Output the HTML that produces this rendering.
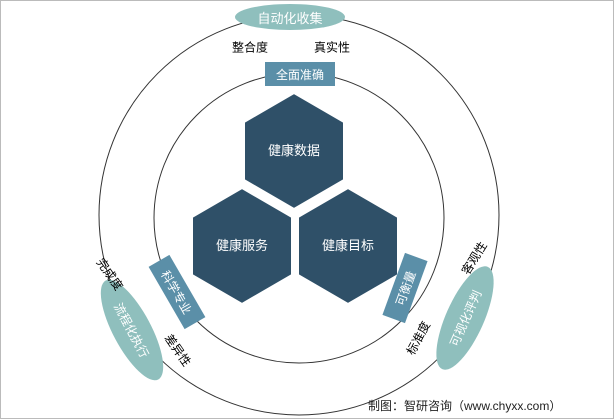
<!DOCTYPE html>
<html><head><meta charset="utf-8"><style>
body{margin:0;width:614px;height:419px;overflow:hidden;background:#fff;font-family:"Liberation Sans","Noto Sans CJK SC",sans-serif;position:relative}
.a{position:absolute;transform:translate(-50%,-50%);white-space:nowrap;display:flex;align-items:center;justify-content:center}
</style></head><body>
<div style="position:absolute;inset:0;border:1px solid #bbb;box-sizing:border-box"></div>
<svg width="614" height="419" style="position:absolute;left:0;top:0">
<circle cx="299" cy="215" r="200" fill="none" stroke="#333" stroke-width="1"/>
<circle cx="299" cy="218" r="145" fill="none" stroke="#333" stroke-width="1"/>
<g fill="#2f5068" stroke="#fff" stroke-width="2">
<polygon points="294,93 344,122 344,180 294,209 244,180 244,122"/>
<polygon points="242,188 292,217 292,275 242,304 192,275 192,217"/>
<polygon points="348,188 398,217 398,275 348,304 298,275 298,217"/>
</g>
<text x="294" y="155" fill="#fff" font-size="13" text-anchor="middle" font-family="Liberation Sans,Noto Sans CJK SC,sans-serif">健康数据</text>
<text x="242" y="250" fill="#fff" font-size="13" text-anchor="middle" font-family="Liberation Sans,Noto Sans CJK SC,sans-serif">健康服务</text>
<text x="348" y="250" fill="#fff" font-size="13" text-anchor="middle" font-family="Liberation Sans,Noto Sans CJK SC,sans-serif">健康目标</text>
</svg>
<div class="a" style="left:290px;top:17px;width:110px;height:26px;border-radius:50%;background:#8fbfbd;color:#fff;font-size:13px">自动化收集</div>
<div class="a" style="left:300px;top:74px;width:70px;height:24px;background:#5b8fa8;color:#fff;font-size:12px">全面准确</div>
<div class="a" style="left:250px;top:47px;font-size:12px">整合度</div>
<div class="a" style="left:332px;top:47px;font-size:12px">真实性</div>
<div class="a" style="left:177px;top:292px;width:72px;height:24px;background:#5b8fa8;color:#fff;font-size:12px;transform:translate(-50%,-50%) rotate(60deg)">科学专业</div>
<div class="a" style="left:405px;top:288px;width:66px;height:24px;background:#5b8fa8;color:#fff;font-size:12px;transform:translate(-50%,-50%) rotate(-70deg)">可衡量</div>
<div class="a" style="left:132px;top:330px;width:112px;height:38px;border-radius:50%;background:#8fbfbd;color:#fff;font-size:12px;transform:translate(-50%,-50%) rotate(62deg)">流程化执行</div>
<div class="a" style="left:465px;top:318px;width:112px;height:38px;border-radius:50%;background:#8fbfbd;color:#fff;font-size:12px;transform:translate(-50%,-50%) rotate(-66deg)">可视化评判</div>
<div class="a" style="left:110px;top:274px;font-size:12px;transform:translate(-50%,-50%) rotate(55deg)">完成度</div>
<div class="a" style="left:178px;top:350px;font-size:12px;transform:translate(-50%,-50%) rotate(55deg)">差异性</div>
<div class="a" style="left:474px;top:258px;font-size:12px;transform:translate(-50%,-50%) rotate(-58deg)">客观性</div>
<div class="a" style="left:418px;top:338px;font-size:12px;transform:translate(-50%,-50%) rotate(-62deg)">标准度</div>
<div style="position:absolute;left:368px;top:397px;font-size:12px;color:#222">制图：智研咨询（www.chyxx.com）</div>
</body></html>
